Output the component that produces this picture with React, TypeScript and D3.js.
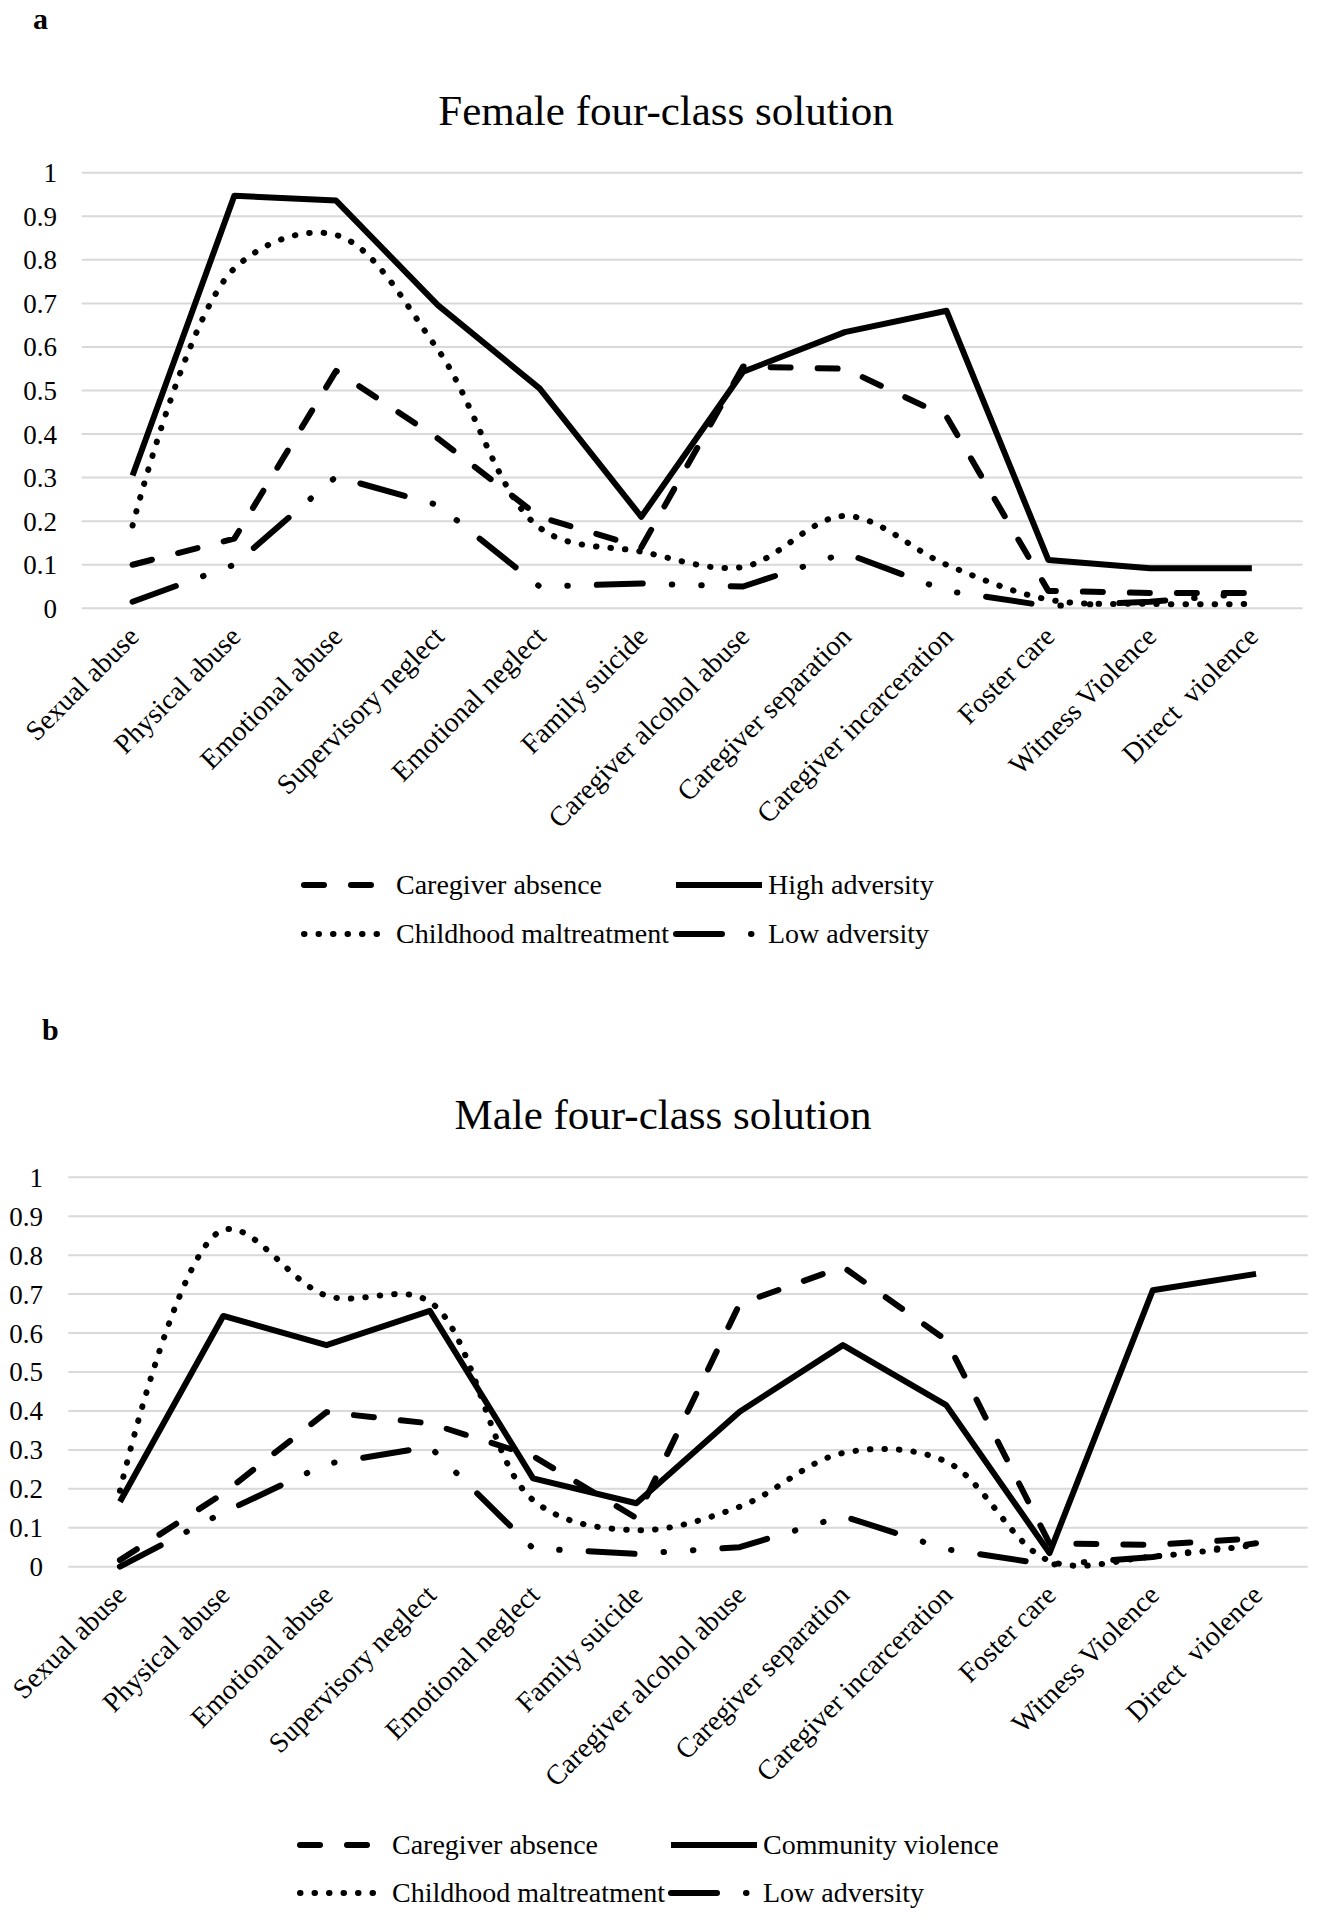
import React from 'react';
import * as d3 from 'd3';

const categories = [
  'Sexual abuse',
  'Physical abuse',
  'Emotional abuse',
  'Supervisory neglect',
  'Emotional neglect',
  'Family suicide',
  'Caregiver alcohol abuse',
  'Caregiver separation',
  'Caregiver incarceration',
  'Foster care',
  'Witness Violence',
  'Direct  violence',
];

const yTicks = [0, 0.1, 0.2, 0.3, 0.4, 0.5, 0.6, 0.7, 0.8, 0.9, 1];
const yTickLabels = ['0', '0.1', '0.2', '0.3', '0.4', '0.5', '0.6', '0.7', '0.8', '0.9', '1'];

// Female four-class solution
const femaleCaregiverAbsence = [0.1, 0.16, 0.545, 0.39, 0.21, 0.14, 0.555, 0.55, 0.44, 0.04, 0.035, 0.035];
const femaleHighAdversity = [0.305, 0.947, 0.936, 0.696, 0.505, 0.21, 0.543, 0.634, 0.683, 0.111, 0.092, 0.092];
const femaleChildhoodMaltreatment = [0.19, 0.78, 0.857, 0.594, 0.185, 0.13, 0.095, 0.212, 0.1, 0.02, 0.01, 0.01];
const femaleLowAdversity = [0.015, 0.1, 0.302, 0.237, 0.05, 0.057, 0.05, 0.127, 0.04, 0.005, 0.015, 0.035];

// Male four-class solution
const maleCaregiverAbsence = [0.017, 0.188, 0.397, 0.368, 0.284, 0.125, 0.675, 0.77, 0.582, 0.06, 0.056, 0.073];
const maleCommunityViolence = [0.167, 0.644, 0.569, 0.657, 0.227, 0.163, 0.398, 0.569, 0.415, 0.035, 0.71, 0.752];
const maleChildhoodMaltreatment = [0.195, 0.865, 0.696, 0.68, 0.171, 0.094, 0.154, 0.292, 0.27, 0.015, 0.026, 0.056];
const maleLowAdversity = [0.0, 0.139, 0.264, 0.308, 0.047, 0.033, 0.05, 0.13, 0.045, 0.005, 0.025, 0.06];

const FONT = '"Liberation Serif", "Times New Roman", serif';

type LineKind = 'dash' | 'solid' | 'dot' | 'lgDashDotDot';

const lineStyles: Record<LineKind, { dash?: string; cap: 'round' | 'butt' }> = {
  dash: { dash: '20 27', cap: 'round' },
  solid: { dash: undefined, cap: 'butt' },
  dot: { dash: '0.5 14', cap: 'round' },
  lgDashDotDot: { dash: '46 29 0.5 29 0.5 29', cap: 'round' },
};

type Series = { name: string; values: number[]; kind: LineKind; smooth?: boolean };

type PanelProps = {
  letter: string;
  letterPos: [number, number];
  title: string;
  titlePos: [number, number];
  plotX: [number, number];
  plotY: [number, number]; // [bottom(0), top(1)]
  tickLabelX: number;
  series: Series[];
  legendRows: [number, number];
  legendCols: [number, number];
};

const STROKE = 6;

function Panel(p: PanelProps) {
  const x = d3.scaleBand<string>().domain(categories).range(p.plotX).padding(0);
  const cx = (c: string) => (x(c) as number) + x.bandwidth() / 2;
  const y = d3.scaleLinear().domain([0, 1]).range(p.plotY);
  const axisY = y(0);

  const straight = d3
    .line<number>()
    .x((_, i) => cx(categories[i]))
    .y((v) => y(v))
    .curve(d3.curveLinear);
  const smooth = d3
    .line<number>()
    .x((_, i) => cx(categories[i]))
    .y((v) => y(v))
    .curve(d3.curveCatmullRom.alpha(0.5));

  const legendLen = 86;

  return (
    <g>
      <text x={p.letterPos[0]} y={p.letterPos[1]} fontFamily={FONT} fontWeight="bold" fontSize={30} fill="#000">
        {p.letter}
      </text>
      <text x={p.titlePos[0]} y={p.titlePos[1]} fontFamily={FONT} fontSize={43} textAnchor="middle" fill="#000">
        {p.title}
      </text>
      {yTicks.map((t, i) => (
        <g key={'g' + i}>
          <line x1={p.plotX[0]} x2={p.plotX[1]} y1={y(t)} y2={y(t)} stroke="#d9d9d9" strokeWidth={2} />
          <text
            x={p.tickLabelX}
            y={y(t)}
            dy="0.35em"
            textAnchor="end"
            fontFamily={FONT}
            fontSize={27}
            fill="#000"
          >
            {yTickLabels[i]}
          </text>
        </g>
      ))}
      {categories.map((c) => (
        <text
          key={c}
          transform={`translate(${cx(c) + 8},${axisY + 30}) rotate(-45)`}
          textAnchor="end"
          fontFamily={FONT}
          fontSize={28}
          fill="#000"
          style={{ whiteSpace: 'pre' }}
        >
          {c}
        </text>
      ))}
      {p.series.map((s) => {
        const st = lineStyles[s.kind];
        const d = (s.smooth ? smooth : straight)(s.values) || '';
        return (
          <path
            key={s.name}
            d={d}
            fill="none"
            stroke="#000"
            strokeWidth={STROKE}
            strokeDasharray={st.dash}
            strokeLinecap={st.cap}
            strokeLinejoin="round"
          />
        );
      })}
      {p.series.map((s, i) => {
        const st = lineStyles[s.kind];
        const row = Math.floor(i / 2);
        const col = i % 2;
        const lx = p.legendCols[col];
        const ly = p.legendRows[row];
        return (
          <g key={'leg' + s.name}>
            <line
              x1={lx}
              x2={lx + legendLen}
              y1={ly}
              y2={ly}
              stroke="#000"
              strokeWidth={STROKE}
              strokeDasharray={st.dash}
              strokeLinecap={st.cap}
            />
            <text x={lx + legendLen + 6} y={ly} dy="0.33em" fontFamily={FONT} fontSize={28} fill="#000">
              {s.name}
            </text>
          </g>
        );
      })}
    </g>
  );
}

export default function App() {
  const female: Series[] = [
    { name: 'Caregiver absence', values: femaleCaregiverAbsence, kind: 'dash' },
    { name: 'High adversity', values: femaleHighAdversity, kind: 'solid' },
    { name: 'Childhood maltreatment', values: femaleChildhoodMaltreatment, kind: 'dot', smooth: true },
    { name: 'Low adversity', values: femaleLowAdversity, kind: 'lgDashDotDot' },
  ];
  const male: Series[] = [
    { name: 'Caregiver absence', values: maleCaregiverAbsence, kind: 'dash' },
    { name: 'Community violence', values: maleCommunityViolence, kind: 'solid' },
    { name: 'Childhood maltreatment', values: maleChildhoodMaltreatment, kind: 'dot', smooth: true },
    { name: 'Low adversity', values: maleLowAdversity, kind: 'lgDashDotDot' },
  ];
  return (
    <svg
      width={1320}
      height={1920}
      viewBox="0 0 1320 1920"
      style={{ position: 'absolute', left: 0, top: 0, background: '#fff', display: 'block' }}
    >
      <rect x={0} y={0} width={1320} height={1920} fill="#fff" />
      <Panel
        letter="a"
        letterPos={[33, 29]}
        title="Female four-class solution"
        titlePos={[666, 125]}
        plotX={[81.7, 1302.7]}
        plotY={[608.3, 172.7]}
        tickLabelX={57}
        series={female}
        legendRows={[885, 934]}
        legendCols={[304, 676]}
      />
      <Panel
        letter="b"
        letterPos={[42, 1040]}
        title="Male four-class solution"
        titlePos={[663, 1129]}
        plotX={[68.3, 1307.7]}
        plotY={[1566.7, 1177.3]}
        tickLabelX={43}
        series={male}
        legendRows={[1845, 1893]}
        legendCols={[300, 671]}
      />
    </svg>
  );
}
